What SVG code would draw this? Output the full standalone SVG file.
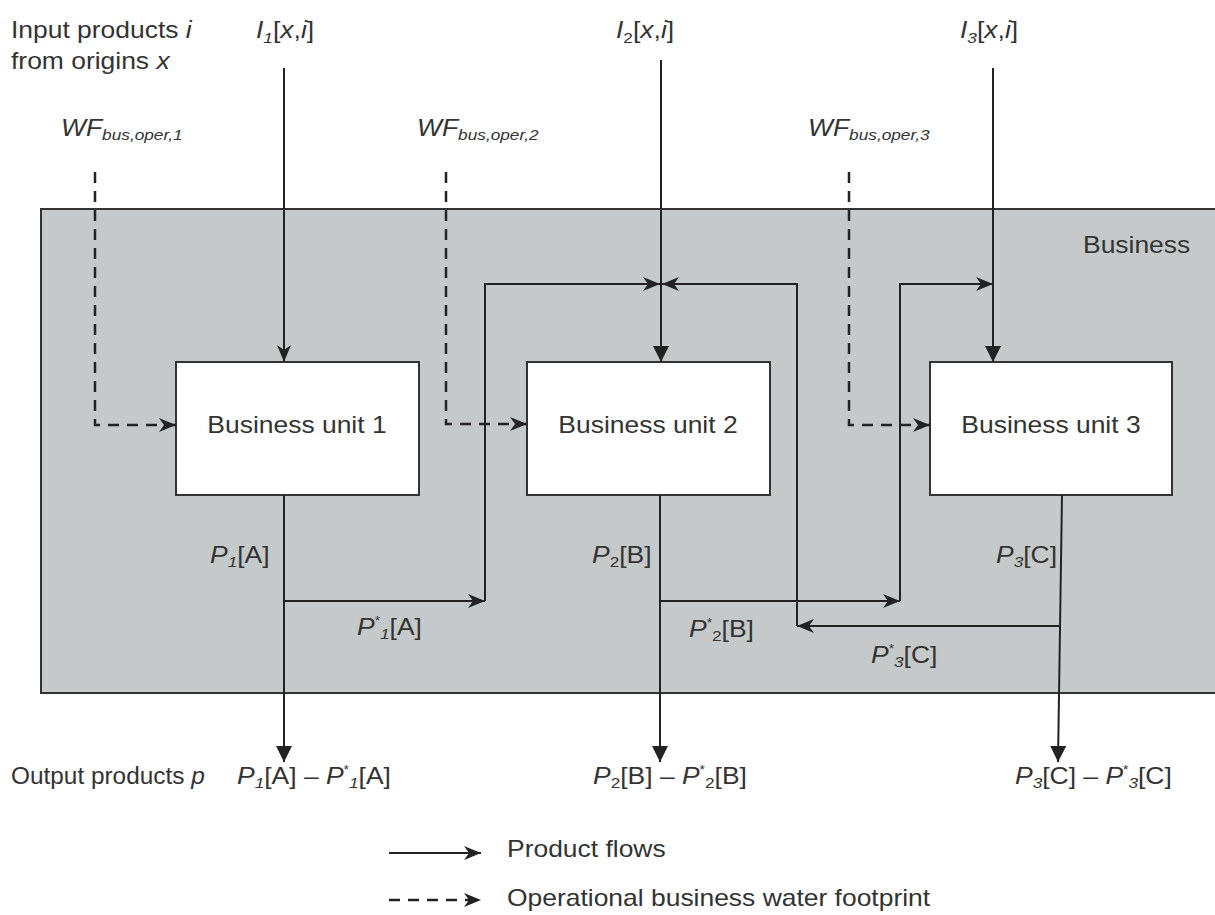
<svg xmlns="http://www.w3.org/2000/svg" width="1215" height="915" viewBox="0 0 1215 915">
<style>
.t{font-family:"Liberation Sans",Arial,Helvetica,sans-serif;font-size:23px;fill:#333}
.it{font-style:italic}
.sub{font-size:15px}
.sup{font-size:12px}
.ln{fill:none;stroke:#222;stroke-width:2}
.dash{fill:none;stroke:#222;stroke-width:2.5;stroke-dasharray:11 8}
.box{fill:#fff;stroke:#333;stroke-width:2}
</style>
<defs>
<marker id="tri" viewBox="0 0 16 16" refX="16" refY="8" markerWidth="16" markerHeight="16" markerUnits="userSpaceOnUse" orient="auto"><path d="M0,0 L16,8 L0,16 Z" fill="#222"/></marker>
<marker id="barb" viewBox="0 0 17 14" refX="17" refY="7" markerWidth="17" markerHeight="14" markerUnits="userSpaceOnUse" orient="auto"><path d="M0,0 L17,7 L0,14 L5,7 Z" fill="#222"/></marker>
</defs>
<rect id="business" x="41" y="209" width="1190" height="484" fill="#c6c9ca" stroke="#333" stroke-width="2"/>
<text class="t" transform="translate(1083,253) scale(1.15,1)">Business</text>
<g id="unit1"><rect class="box" x="176" y="362" width="243" height="133"/><text class="t" text-anchor="middle" transform="translate(297,433) scale(1.15,1)">Business unit 1</text></g>
<g id="unit2"><rect class="box" x="527" y="362" width="243" height="133"/><text class="t" text-anchor="middle" transform="translate(648,433) scale(1.15,1)">Business unit 2</text></g>
<g id="unit3"><rect class="box" x="930" y="362" width="242" height="133"/><text class="t" text-anchor="middle" transform="translate(1051,433) scale(1.15,1)">Business unit 3</text></g>
<g id="connectors">
<path class="ln" d="M284,68 V362" marker-end="url(#barb)"/>
<path class="ln" d="M661,60 V362" marker-end="url(#tri)"/>
<path class="ln" d="M993,68 V362" marker-end="url(#tri)"/>
<path class="dash" d="M95,172 V425 H176" marker-end="url(#barb)"/>
<path class="dash" d="M446,172 V424 H527" marker-end="url(#barb)"/>
<path class="dash" d="M849,172 V425 H930" marker-end="url(#barb)"/>
<path class="ln" d="M284,495 V762" marker-end="url(#tri)"/>
<path class="ln" d="M660,495 V762" marker-end="url(#tri)"/>
<path class="ln" d="M1062,495 L1058,762" marker-end="url(#tri)"/>
<path class="ln" d="M284,601 H485" marker-end="url(#barb)"/>
<path class="ln" d="M485,601 V284 H660" marker-end="url(#barb)"/>
<path class="ln" d="M660,601 H900" marker-end="url(#barb)"/>
<path class="ln" d="M900,601 V284 H993" marker-end="url(#barb)"/>
<path class="ln" d="M1061,626 H797" marker-end="url(#barb)"/>
<path class="ln" d="M797,626 V284 H662" marker-end="url(#barb)"/>
<path class="ln" d="M389,853 H481" marker-end="url(#barb)"/>
<path class="dash" d="M389,900 H481" marker-end="url(#barb)"/>
</g>
<g id="labels">
<text class="t" transform="translate(11,38) scale(1.15,1)">Input products <tspan class="it">i</tspan></text>
<text class="t" transform="translate(11,69) scale(1.15,1)">from origins <tspan class="it">x</tspan></text>
<text class="t" transform="translate(256,38) scale(1.15,1)"><tspan class="it">I</tspan><tspan class="sub it" dy="5">1</tspan><tspan dy="-5">[</tspan><tspan class="it">x</tspan>,<tspan class="it">i</tspan>]</text>
<text class="t" transform="translate(616,38) scale(1.15,1)"><tspan class="it">I</tspan><tspan class="sub" dy="5">2</tspan><tspan dy="-5">[</tspan><tspan class="it">x</tspan>,<tspan class="it">i</tspan>]</text>
<text class="t" transform="translate(960,38) scale(1.15,1)"><tspan class="it">I</tspan><tspan class="sub it" dy="5">3</tspan><tspan dy="-5">[</tspan><tspan class="it">x</tspan>,<tspan class="it">i</tspan>]</text>
<text class="t it" transform="translate(61,136) scale(1.15,1)">WF<tspan class="sub" dy="4">bus,oper,1</tspan></text>
<text class="t it" transform="translate(417,136) scale(1.15,1)">WF<tspan class="sub" dy="4">bus,oper,2</tspan></text>
<text class="t it" transform="translate(808,136) scale(1.15,1)">WF<tspan class="sub" dy="4">bus,oper,3</tspan></text>
<text class="t" transform="translate(210,563) scale(1.15,1)"><tspan class="it">P</tspan><tspan class="sub it" dy="4">1</tspan><tspan dy="-4">[A]</tspan></text>
<text class="t" transform="translate(592,563) scale(1.15,1)"><tspan class="it">P</tspan><tspan class="sub" dy="4">2</tspan><tspan dy="-4">[B]</tspan></text>
<text class="t" transform="translate(996,563) scale(1.15,1)"><tspan class="it">P</tspan><tspan class="sub it" dy="4">3</tspan><tspan dy="-4">[C]</tspan></text>
<text class="t" transform="translate(357,635) scale(1.15,1)"><tspan class="it">P</tspan><tspan class="sup" dy="-10">*</tspan><tspan class="sub it" dy="14">1</tspan><tspan dy="-4">[A]</tspan></text>
<text class="t" transform="translate(689,637) scale(1.15,1)"><tspan class="it">P</tspan><tspan class="sup" dy="-10">*</tspan><tspan class="sub" dy="14">2</tspan><tspan dy="-4">[B]</tspan></text>
<text class="t" transform="translate(871,663) scale(1.15,1)"><tspan class="it">P</tspan><tspan class="sup" dy="-10">*</tspan><tspan class="sub it" dy="14">3</tspan><tspan dy="-4">[C]</tspan></text>
<text class="t" transform="translate(11,784) scale(1.06,1)">Output products <tspan class="it">p</tspan></text>
<text class="t" transform="translate(237,784) scale(1.15,1)"><tspan class="it">P</tspan><tspan class="sub it" dy="4">1</tspan><tspan dy="-4">[A] – </tspan><tspan class="it">P</tspan><tspan class="sup" dy="-10">*</tspan><tspan class="sub it" dy="14">1</tspan><tspan dy="-4">[A]</tspan></text>
<text class="t" transform="translate(593,784) scale(1.15,1)"><tspan class="it">P</tspan><tspan class="sub" dy="4">2</tspan><tspan dy="-4">[B] – </tspan><tspan class="it">P</tspan><tspan class="sup" dy="-10">*</tspan><tspan class="sub" dy="14">2</tspan><tspan dy="-4">[B]</tspan></text>
<text class="t" transform="translate(1015,784) scale(1.15,1)"><tspan class="it">P</tspan><tspan class="sub it" dy="4">3</tspan><tspan dy="-4">[C] – </tspan><tspan class="it">P</tspan><tspan class="sup" dy="-10">*</tspan><tspan class="sub it" dy="14">3</tspan><tspan dy="-4">[C]</tspan></text>
<text class="t" transform="translate(507,857) scale(1.15,1)">Product flows</text>
<text class="t" transform="translate(507,906) scale(1.15,1)">Operational business water footprint</text>
</g>
</svg>
